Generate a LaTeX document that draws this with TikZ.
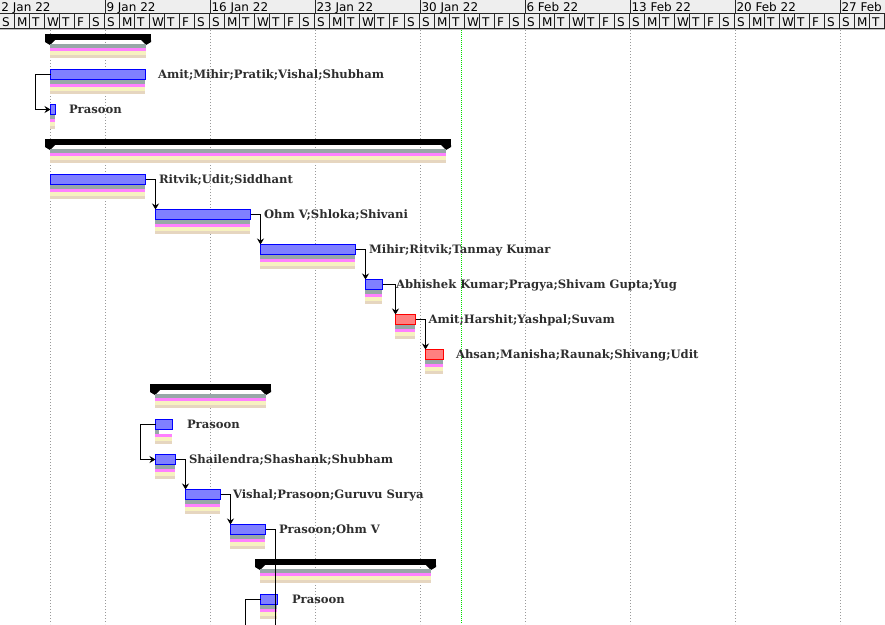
\documentclass[tikz,border=0pt]{standalone}
\usepackage{fontspec}
\newfontfamily\hdrfont{DejaVu Sans}
\newfontfamily\lblfont{DejaVu Serif}
\usetikzlibrary{arrows.meta}
\definecolor{dgreen}{HTML}{2F4F4F}
\definecolor{mag}{HTML}{FF00FF}
\definecolor{ylw}{HTML}{F0E68C}
\definecolor{tanc}{HTML}{D2B48C}
\definecolor{hdrbg}{HTML}{EEEEEE}
\definecolor{lblc}{HTML}{2E2E2E}
\definecolor{barblue}{HTML}{0000FF}
\definecolor{barred}{HTML}{FF0000}
\definecolor{todaygreen}{HTML}{00E000}
\tikzset{
  taskbar/.style={rectangle, inner sep=0pt, outer sep=0pt, line width=1pt,
    minimum height=10pt},
  sumbar/.style={rectangle, inner sep=0pt, outer sep=0pt, fill=black,
    minimum height=6pt},
  lbl/.style={inner sep=0pt, outer sep=0pt, text=lblc,
    font=\lblfont\bfseries\fontsize{11.6pt}{13pt}\selectfont},
  hdr/.style={inner sep=0pt, outer sep=0pt, text=black,
    font=\hdrfont\fontsize{12pt}{14pt}\selectfont},
  sepline/.style={line width=1pt, black!85},
  gridline/.style={line width=1pt, gray!80, dash pattern=on 1pt off 2pt},
  todayline/.style={line width=1pt, todaygreen, dash pattern=on 1pt off 1pt},
  conn/.style={line width=1pt, black, -{Stealth[length=6pt,width=7pt,inset=2pt]}},
  plainconn/.style={line width=1pt, black}
}
\newcommand\gstripes[4]{%
  \fill[white] (#1,#3) rectangle (#2,#3+14);
  \fill[dgreen!50!white] (#1,#3) rectangle (#4,#3+3.5);
  \fill[mag!50!white] (#1,#3+3.5) rectangle (#2,#3+7);
  \fill[ylw!55!white] (#1,#3+7) rectangle (#2,#3+10.5);
  \fill[tanc!55!white] (#1,#3+10.5) rectangle (#2,#3+14);
}
\newcommand\gtask[6]{% name, x1, x2, T, colour, green end
  \gstripes{#2}{#3-1}{#4+11}{#6}
  \node[taskbar, draw=#5, fill=#5!50!white, minimum width={#3-#2-1}, anchor=north west]
    (#1) at (#2+0.5,#4+0.5) {};
}
\newcommand\gsummary[4]{% name, s, e, T
  \node[sumbar, minimum width={#3-#2+10}, anchor=north west] (#1) at (#2-5,#4) {};
  \fill (#2-5,#4+6) -- (#2-5,#4+8) -- (#2,#4+11) -- (#2+5,#4+6) -- cycle;
  \fill (#3-5,#4+6) -- (#3,#4+11) -- (#3+5,#4+8) -- (#3+5,#4+6) -- cycle;
  \gstripes{#2}{#3}{#4+10}{#3}
}
\newcommand\glabel[4]{% name, x, T, text
  \node[lbl, anchor=base west] (#1) at (#2,#3+9.3) {#4};
}
\begin{document}
\begin{tikzpicture}[x=1pt,y=-1pt]
\useasboundingbox (0,0) rectangle (885,624);
\clip (0,0) rectangle (885,624);
\fill[white] (0,0) rectangle (885,624);
% header
\fill[hdrbg] (0,0) rectangle (885,29);
\foreach \lab [count=\k from 0] in {2 Jan 22,9 Jan 22,16 Jan 22,23 Jan 22,30 Jan 22,6 Feb 22,13 Feb 22,20 Feb 22,27 Feb 22}
  \node[hdr, anchor=base west] (wk\k) at (105*\k+1.5,11.7) {\lab};
\foreach \d [count=\i from 0] in {S,M,T,W,T,F,S}
  \foreach \w in {0,...,8}
    \node[hdr, anchor=base west] (day\w-\i) at (105*\w+15*\i+2,26.8) {\d};
\foreach \k in {1,...,8}
  \draw[sepline] (105*\k+0.5,0) -- (105*\k+0.5,13.5);
\foreach \i in {1,...,59}
  \draw[sepline] (15*\i-0.5,13.5) -- (15*\i-0.5,28.5);
\draw[sepline] (0,13.5) -- (885,13.5);
\draw[sepline] (0,28.5) -- (885,28.5);
\draw[line width=1pt, gray!50] (0,29.5) -- (885,29.5);
% grid
\draw[gridline] (50.5,30) -- (50.5,624);
\foreach \k in {1,...,8}
  \draw[gridline] (105*\k+0.5,30) -- (105*\k+0.5,624);
\draw[todayline] (461.5,30) -- (461.5,624);
% rows
\gsummary{s0}{50}{146}{34}
\gtask{t1}{50}{146}{69}{barblue}{145}
\gtask{t2}{50}{56}{104}{barblue}{55}
\gsummary{s3}{50}{446}{139}
\gtask{t4}{50}{146}{174}{barblue}{145}
\gtask{t5}{155}{251}{209}{barblue}{250}
\gtask{t6}{260}{356}{244}{barblue}{355}
\gtask{t7}{365}{383}{279}{barblue}{382}
\gtask{t8}{395}{416}{314}{barred}{415}
\gtask{t9}{425}{444}{349}{barred}{443}
\gsummary{s10}{155}{266}{384}
\gtask{t11}{155}{173}{419}{barblue}{159}
\gtask{t12}{155}{176}{454}{barblue}{175}
\gtask{t13}{185}{221}{489}{barblue}{220}
\gtask{t14}{230}{266}{524}{barblue}{265}
\gsummary{s15}{260}{431}{559}
\gtask{t16}{260}{278}{594}{barblue}{277}
% labels
\glabel{l1}{158}{69}{Amit;Mihir;Pratik;Vishal;Shubham}
\glabel{l2}{69}{104}{Prasoon}
\glabel{l4}{159}{174}{Ritvik;Udit;Siddhant}
\glabel{l5}{264}{209}{Ohm V;Shloka;Shivani}
\glabel{l6}{369}{244}{Mihir;Ritvik;Tanmay Kumar}
\glabel{l7}{396}{279}{Abhishek Kumar;Pragya;Shivam Gupta;Yug}
\glabel{l8}{428.5}{314}{Amit;Harshit;Yashpal;Suvam}
\glabel{l9}{456}{349}{Ahsan;Manisha;Raunak;Shivang;Udit}
\glabel{l11}{187}{419}{Prasoon}
\glabel{l12}{189}{454}{Shailendra;Shashank;Shubham}
\glabel{l13}{233}{489}{Vishal;Prasoon;Guruvu Surya}
\glabel{l14}{279}{524}{Prasoon;Ohm V}
\glabel{l16}{292}{594}{Prasoon}
% connectors
\coordinate (o14) at (275.5,660);
\coordinate (o16) at (245.5,660);
\draw[conn] (t1.west) -- ++(-15,0) |- (t2.west);
\draw[conn] (t4.east) -| (t5.north west);
\draw[conn] (t5.east) -| (t6.north west);
\draw[conn] (t6.east) -| (t7.north west);
\draw[conn] (t7.east) -| (t8.north west);
\draw[conn] (t8.east) -| (t9.north west);
\draw[conn] (t11.west) -- ++(-15,0) |- (t12.west);
\draw[conn] (t12.east) -| (t13.north west);
\draw[conn] (t13.east) -| (t14.north west);
\draw[plainconn] (t14.east) -| (o14);
\draw[plainconn] (t16.west) -| (o16);
\end{tikzpicture}
\end{document}
